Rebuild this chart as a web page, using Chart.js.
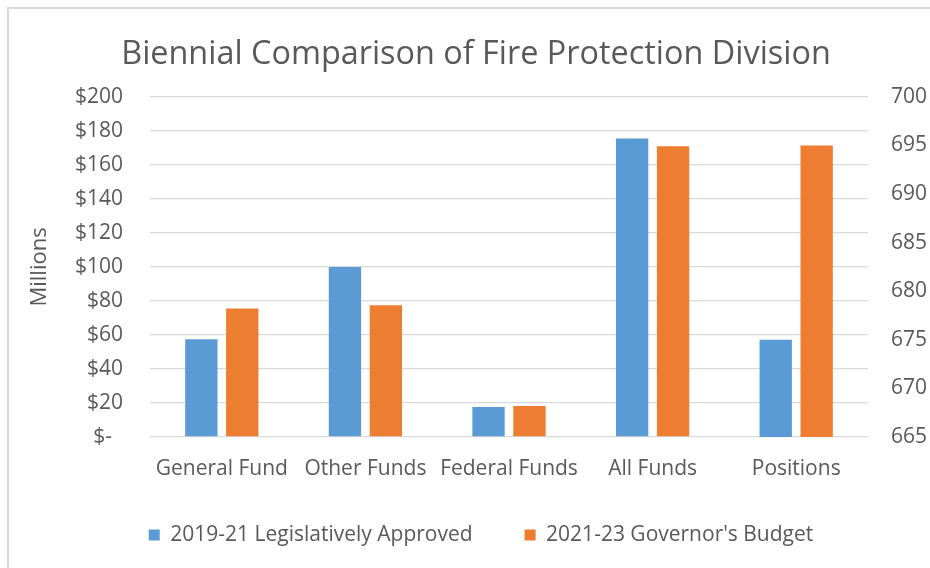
<!DOCTYPE html>
<html>
<head>
<meta charset="utf-8">
<script src="https://cdn.jsdelivr.net/npm/chart.js@4/dist/chart.umd.min.js"></script>
<style>
    html, body { margin: 0; padding: 0; background: #fff; }
    #wrap { position: relative; width: 930px; height: 568px; overflow: hidden; }
    #frame { position: absolute; left: 7px; top: 7px; width: 1000px; height: 1000px;
             border-left: 2px solid #d9d9d9; border-top: 2px solid #d9d9d9; }
    #fireChart { position: absolute; left: 0; top: 0; }
</style>
</head>
<body>
<div id="wrap">
    <div id="frame"></div>
    <canvas id="fireChart" width="930" height="568"></canvas>
</div>
<script>
// Fire Protection Division — fund totals ($M) on the left axis, positions on the right axis
const categories = ['General Fund', 'Other Funds', 'Federal Funds', 'All Funds', 'Positions'];
const seriesNames = ['2019-21 Legislatively Approved', "2021-23 Governor's Budget"];
const fundsApproved = [57.5, 100.0, 17.6, 175.5, null];
const fundsGovernor = [75.5, 77.5, 18.2, 171.0, null];
const positionsApproved = [null, null, null, null, 675];
const positionsGovernor = [null, null, null, null, 695];
const dollarTicks = [0, 20, 40, 60, 80, 100, 120, 140, 160, 180, 200];
const positionTicks = [665, 670, 675, 680, 685, 690, 695, 700];

const BLUE = '#5B9BD5';
const ORANGE = '#ED7D31';
const TEXT = '#595959';
const FONT = "'Open Sans', 'Noto Sans', sans-serif";

const barStyle = { categoryPercentage: 0.57, barPercentage: 0.79, skipNull: true };

// the wide label padding pushes legend text down; pull the box up a bit so it sits closer to the axis
const legendLift = {
    id: 'legendLift',
    afterLayout(chart) {
        const lg = chart.legend;
        if (!lg) return;
        lg.top -= 12.5;
        lg.bottom -= 12.5;
        lg.left += 5;
        lg.right += 5;
    }
};

new Chart(document.getElementById('fireChart').getContext('2d'), {
    type: 'bar',
    data: {
        labels: categories,
        datasets: [
            { label: seriesNames[0], data: fundsApproved, backgroundColor: BLUE, yAxisID: 'y', ...barStyle },
            { label: seriesNames[1], data: fundsGovernor, backgroundColor: ORANGE, yAxisID: 'y', ...barStyle },
            { label: seriesNames[0], data: positionsApproved, backgroundColor: BLUE, yAxisID: 'y1', ...barStyle },
            { label: seriesNames[1], data: positionsGovernor, backgroundColor: ORANGE, yAxisID: 'y1', ...barStyle }
        ]
    },
    plugins: [legendLift],
    options: {
        responsive: false,
        animation: false,
        layout: { padding: { left: 22, right: 0, top: 0, bottom: 0 } },
        plugins: {
            title: {
                display: true,
                text: 'Biennial Comparison of Fire Protection Division',
                color: TEXT,
                font: { family: FONT, size: 32.4, weight: 'normal', lineHeight: 1.2 },
                padding: { top: 35, bottom: 23 }
            },
            legend: {
                position: 'bottom',
                maxHeight: 97,
                labels: {
                    color: TEXT,
                    font: { family: FONT, size: 21 },
                    boxWidth: 11, boxHeight: 11,
                    padding: 52,
                    filter: item => item.datasetIndex < 2
                }
            },
            tooltip: { enabled: false }
        },
        scales: {
            x: {
                grid: { display: false, drawTicks: false },
                border: { display: false },
                ticks: { color: TEXT, font: { family: FONT, size: 21 }, padding: 19, maxRotation: 0 },
                afterFit: s => { s.height = 48; }
            },
            y: {
                position: 'left',
                min: 0, max: 200,
                afterBuildTicks: s => { s.ticks = dollarTicks.map(v => ({ value: v })); },
                grid: { color: '#d9d9d9', lineWidth: 1.3, drawTicks: false },
                border: { display: false },
                ticks: {
                    color: TEXT, font: { family: FONT, size: 21 }, padding: 27,
                    callback: v => v === 0 ? '$-  ' : '$' + v
                },
                title: {
                    display: true, text: 'Millions', color: TEXT,
                    font: { family: FONT, size: 22 }, padding: { top: 5, bottom: 0 }
                },
                afterFit: s => { s.width = 128; }
            },
            y1: {
                position: 'right',
                min: 665, max: 700,
                afterBuildTicks: s => { s.ticks = positionTicks.map(v => ({ value: v })); },
                grid: { display: false, drawTicks: false },
                border: { display: false },
                ticks: { color: TEXT, font: { family: FONT, size: 21 }, padding: 23 },
                afterFit: s => { s.width = 62; }
            }
        }
    }
});
</script>
</body>
</html>
